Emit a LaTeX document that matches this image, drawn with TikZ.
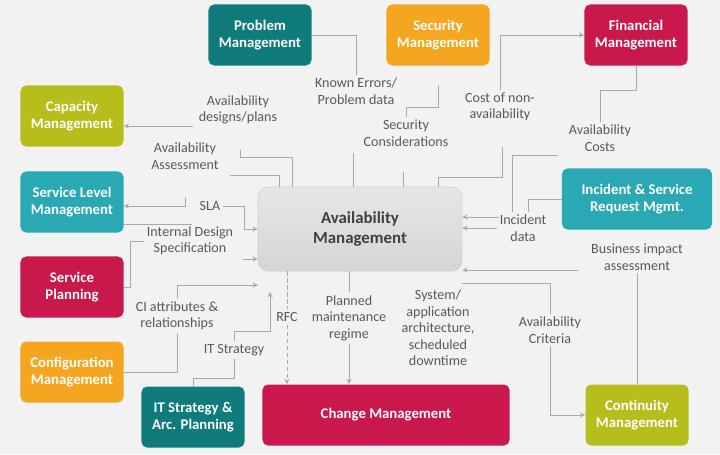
\documentclass[tikz,border=0pt]{standalone}
\usepackage{fontspec}
\setmainfont{Carlito}

\definecolor{tealD}{HTML}{0F7B7B}
\definecolor{amberC}{HTML}{F4A620}
\definecolor{crimC}{HTML}{C8184C}
\definecolor{limeC}{HTML}{B5BE1B}
\definecolor{cyanC}{HTML}{2AA8B4}
\definecolor{lineC}{HTML}{A8A8A8}
\definecolor{txtC}{HTML}{595959}
\definecolor{bgC}{HTML}{F2F2F2}
\definecolor{availT}{HTML}{E6E6E6}
\definecolor{availB}{HTML}{D5D5D5}

\tikzset{
  box/.style={rounded corners=4pt, text=white, align=center, inner sep=2pt,
    font=\fontsize{10.5}{12}\selectfont\bfseries,
    minimum width=2.575cm, minimum height=1.525cm},
  lbl/.style={text=txtC, align=center, inner sep=2pt,
    font=\fontsize{10}{11.7}\selectfont},
  link/.style={draw=lineC, line width=0.7pt},
  arr/.style={link, ->, >=stealth},
}

\begin{document}
\begin{tikzpicture}[x=0.025cm, y=-0.025cm]
            \fill[bgC] (0,0) rectangle (720,454);
            \useasboundingbox (0,0) rectangle (720,454);

            % Centre
            \node[rounded corners=7pt, top color=availT, bottom color=availB, draw=black!18, align=center,
              minimum width=5.1cm, minimum height=2.1cm, text=black!75,
              font=\fontsize{12}{14}\selectfont\bfseries] (avail) at (360,229) {Availability\\Management};

            % Boxes
            \node[box, fill=tealD] (prob) at (260,35) {Problem\\Management};
            \node[box, fill=amberC] (sec) at (438,35) {Security\\Management};
            \node[box, fill=crimC] (fin) at (636,35) {Financial\\Management};
            \node[box, fill=limeC] (cap) at (72,116) {Capacity\\Management};
            \node[box, fill=cyanC] (slm) at (72,202) {Service Level\\Management};
            \node[box, fill=crimC] (splan) at (72,287) {Service\\Planning};
            \node[box, fill=amberC] (conf) at (72,372) {Configuration\\Management};
            \node[box, fill=tealD] (itsa) at (193,417) {IT Strategy \&\\Arc. Planning};
            \node[box, fill=crimC, minimum width=6.175cm] (chg) at (386,415) {Change Management};
            \node[box, fill=limeC] (cont) at (637,415) {Continuity\\Management};
            \node[box, fill=cyanC, minimum width=3.75cm] (inc) at (637,199) {Incident \& Service\\Request Mgmt.};

            % Labels
            \node[lbl] (lde) at (238,110) {Availability\\designs/plans};
            \node[lbl] (las) at (185,156) {Availability\\Assessment};
            \node[lbl] (lke) at (356,91) {Known Errors/\\Problem data};
            \node[lbl] (lsc) at (406,133) {Security\\Considerations};
            \node[lbl] (lcn) at (500,107) {Cost of non-\\availability};
            \node[lbl] (lac) at (600,138) {Availability\\Costs};
            \node[lbl] (lsla) at (210,206) {SLA};
            \node[lbl] (lids) at (190,241) {Internal Design\\Specification};
            \node[lbl] (lid) at (523,228) {Incident\\data};
            \node[lbl] (lbia) at (637,257) {Business impact\\assessment};
            \node[lbl] (lci) at (177,316) {CI attributes \&\\relationships};
            \node[lbl] (lit) at (234,350) {IT Strategy};
            \node[lbl] (lrfc) at (287,317) {RFC};
            \node[lbl] (lpm) at (349,318) {Planned\\maintenance\\regime};
            \node[lbl] (lsys) at (438,328) {System/\\application\\architecture,\\scheduled\\downtime};
            \node[lbl] (lavc) at (550,330) {Availability\\Criteria};

            % Top flows
            \draw[link] (prob.east) -| (lke.north);
            \coordinate (ke1) at (353,153);
            \draw[link] (ke1) -- (ke1 |- avail.north);
            \coordinate (sc1) at (438,85);
            \draw[link] (sc1) -- ++(0,22) -| (lsc.north);
            \coordinate (sc2) at (403,172);
            \draw[link] (sc2) -- (sc2 |- avail.north);
            \coordinate (cn1) at (502,147);
            \draw[link] (cn1) -- ++(0,30) -| ([xshift=1.95cm]avail.north);
            \draw[arr] (lcn.north) |- (fin.west);
            \draw[link] (fin.south) -- ++(0,25) -| (lac.north);

            % Right flows
            \coordinate (ac1) at (558,155);
            \draw[link] (ac1) -| ([xshift=-0.275cm]lid.north);
            \draw[link] (inc.west) -| ([xshift=0.125cm]lid.north);
            \coordinate (id1) at (499,217);
            \draw[arr] (id1) -- (id1 -| avail.east);
            \draw[arr] (lid.west) -- (lid.west -| avail.east);
            \draw[link] (cont.north) -- (lbia.south);
            \coordinate (bi1) at (578,270);
            \draw[arr] (bi1) -- (bi1 -| avail.east);
            \coordinate (cr1) at (462,283);
            \draw[link] (cr1) -| (lavc.north);
            \draw[arr] (lavc.south) |- (cont.west);

            % Bottom flows
            \draw[link] (lpm.north |- avail.south) -- (lpm.north);
            \draw[arr] (lpm.south) -- (lpm.south |- chg.north);
            \draw[link, dash pattern=on 3pt off 2pt] (lrfc.north |- avail.south) -- (lrfc.north);
            \draw[arr, dash pattern=on 3pt off 2pt] (lrfc.south) -- (lrfc.south |- chg.north);

            % Left flows
            \draw[link] (itsa.north) -- ++(0,-8) -| (lit.south);
            \coordinate (it1) at (270,292);
            \draw[arr] (lit.north) -- ++(0,-10) -| (it1);
            \draw[link] (conf.east) -| (lci.south);
            \coordinate (ci1) at (258,285);
            \draw[arr] (lci.north) |- (ci1);
            \draw[link] (splan.east) -- ++(7,0) |- (lids.west);
            \coordinate (ds1) at (243,259);
            \draw[arr] (ds1) -- (ds1 -| avail.west);
            \draw[link] ([yshift=-0.55cm]slm.east) -- ++(68,0);
            \coordinate (sa1) at (185,197);
            \draw[arr] (sa1) |- ([yshift=-0.1cm]slm.east);
            \draw[arr] (lsla.east) -- ++(21,0) |- (avail.west);
            \coordinate (dp1) at (193,126);
            \draw[arr] (dp1) -- (dp1 -| cap.east);
            \coordinate (as1) at (240,150);
            \draw[link] (as1) -- ++(0,7) -| ([xshift=-1.675cm]avail.north);
            \coordinate (as2) at (230,175);
            \draw[link] (as2) -| ([xshift=-2cm]avail.north);

\end{tikzpicture}
\end{document}
